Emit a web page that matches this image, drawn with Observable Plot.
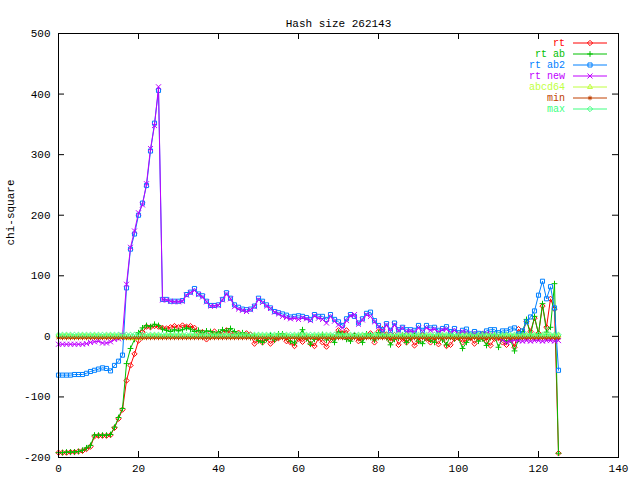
<!DOCTYPE html>
<html><head><meta charset="utf-8">
<script src="https://cdn.jsdelivr.net/npm/d3@7"></script>
<script src="https://cdn.jsdelivr.net/npm/@observablehq/plot@0.6"></script>
<style>body{margin:0;background:#fff} svg{display:block}</style>
</head><body><div id="chart"></div>
<script>
const title = "Hash size 262143";
const yLabel = "chi-square";
const xTicks = [0, 20, 40, 60, 80, 100, 120, 140];
const yTicks = [-200, -100, 0, 100, 200, 300, 400, 500];
const seriesNames = ["rt", "rt ab", "rt ab2", "rt new", "abcd64", "min", "max"];
const seriesColors = ["#ff0000", "#00c000", "#0080ff", "#c000ff", "#c0ff40", "#c04000", "#40ff80"];
const seriesSymbols = ["diamond2", "plus", "square2", "times", "triangle2", "asterisk", "diamond2"];

const rt = [
 -192,-192,-192,-191,-191,-190,-189,-186,-182,-165,
 -164,-164,-164,-163,-151,-136,-121,-73,-48,-29,
 -7,7,16,15,17,16,14,13,15,17,
 15,18,16,17,14,7,7,-5,6,8,
 4,7,10,5,3,6,2,5,3,-12,
 -6,-10,-4,-12,-6,-3,2,-8,-10,-16,
 -4,-9,-2,-12,-16,-3,-10,-17,-6,-2,
 10,5,10,-4,2,-8,-3,0,5,-10,
 8,12,3,-8,2,-14,-4,-10,-3,-15,
 -8,2,-4,-10,-3,-13,0,-16,-14,-4,
 -2,-10,-5,-3,-12,-2,4,-8,-15,-4,
 -3,-10,-14,-2,-18,12,5,25,8,30,
 5,50,15,62,45,-193];
const rtAb = [
 -192,-192,-191,-191,-191,-190,-188,-184,-180,-163,
 -163,-163,-163,-162,-150,-134,-119,-45,-20,-5,
 6,14,18,16,20,18,12,10,8,11,
 9,11,14,12,8,10,6,9,8,4,
 7,11,9,13,8,3,6,2,-2,1,
 -7,-10,-5,2,-6,4,4,-2,-8,-11,
 0,11,-4,-13,-5,-2,3,-6,-2,-10,
 7,4,-5,-8,1,-2,-10,4,2,-6,
 6,3,-2,-14,-5,-3,2,-10,-4,1,
 -8,-12,-2,-6,-10,0,-6,-14,2,-4,
 -2,-20,-10,-2,0,-8,-4,-15,-2,2,
 -18,-3,-8,-6,-24,-5,8,28,2,33,
 4,54,7,15,87,-193];
const rtAb2 = [
 -64,-64,-64,-64,-63,-63,-63,-61,-58,-56,
 -54,-52,-53,-57,-48,-41,-31,80,144,169,
 200,220,249,306,352,406,61,61,58,58,
 58,59,69,73,79,70,67,58,51,51,
 52,61,72,63,52,48,45,44,45,50,
 63,58,52,47,41,39,37,35,32,33,
 34,33,31,28,36,33,33,28,36,28,
 24,18,29,36,33,22,29,38,40,26,
 18,11,21,10,22,11,15,11,11,10,
 18,10,18,14,15,10,13,16,8,13,
 6,10,12,4,8,5,4,9,11,11,
 6,9,9,12,14,4,9,24,32,42,
 68,91,62,82,47,-56];
const rtNew = [
 -13,-13,-13,-13,-13,-13,-13,-12,-10,-9,
 -8,-11,-11,-9,-5,-4,2,86,147,174,
 204,217,252,310,348,412,60,60,58,57,
 57,58,68,72,76,69,65,57,50,50,
 51,60,70,62,49,45,43,41,44,49,
 61,56,50,46,40,37,33,31,29,30,
 28,31,29,26,34,30,28,22,33,25,
 19,14,26,34,36,20,27,36,33,24,
 16,8,19,8,19,9,14,8,9,7,
 14,8,14,10,12,7,11,12,6,10,
 4,8,6,2,5,1,2,5,3,1,
 -2,-6,-10,-8,-6,-7,-8,-7,-8,-7,
 -7,-8,-7,-7,-8,-7];
const abcd64 = [
 1,0,1,0,-1,0,1,0,0,1,
 0,-1,0,1,0,0,-1,-2,-3,-3,
 -3,-2,-1,0,1,0,-1,0,1,0,
 0,1,-1,0,0,1,0,-1,0,1,
 0,0,1,-1,0,0,1,0,-1,0,
 1,0,0,-1,0,1,0,0,-1,0,
 0,1,0,-1,0,0,1,0,0,-1,
 0,1,0,0,-1,0,1,0,-1,0,
 0,0,1,0,-1,0,0,1,0,-1,
 0,1,0,0,-1,0,1,0,0,-1,
 0,0,1,0,-1,0,0,1,0,0,
 -1,0,1,0,0,-1,0,1,0,0,
 -1,0,1,0,0,1];
const minVals = [
 -2.5,-2.5,-2.5,-2.5,-2.5,-2.5,-2.5,-2.5,-2.5,-2.5,
 -2.5,-2.5,-2.5,-2.5,-2.5,-2.5,-2.5,-2.5,-2.5,-2.5,
 -2.5,-2.5,-2.5,-2.5,-2.5,-2.5,-2.5,-2.5,-2.5,-2.5,
 -2.5,-2.5,-2.5,-2.5,-2.5,-2.5,-2.5,-2.5,-2.5,-2.5,
 -2.5,-2.5,-2.5,-2.5,-2.5,-2.5,-2.5,-2.5,-2.5,-2.5,
 -2.5,-2.5,-2.5,-2.5,-2.5,-2.5,-2.5,-2.5,-2.5,-2.5,
 -2.5,-2.5,-2.5,-2.5,-2.5,-2.5,-2.5,-2.5,-2.5,-2.5,
 -2.5,-2.5,-2.5,-2.5,-2.5,-2.5,-2.5,-2.5,-2.5,-2.5,
 -2.5,-2.5,-2.5,-2.5,-2.5,-2.5,-2.5,-2.5,-2.5,-2.5,
 -2.5,-2.5,-2.5,-2.5,-2.5,-2.5,-2.5,-2.5,-2.5,-2.5,
 -2.5,-2.5,-2.5,-2.5,-2.5,-2.5,-2.5,-2.5,-2.5,-2.5,
 -2.5,-2.5,-2.5,-2.5,-2.5,-2.5,-2.5,-2.5,-2.5,-2.5,
 -2.5,-2.5,-2.5,-2.5,-2.5,-2.5];
const maxVals = [
 2.5,2.5,2.5,2.5,2.5,2.5,2.5,2.5,2.5,2.5,
 2.5,2.5,2.5,2.5,2.5,2.5,2.5,2.5,2.5,2.5,
 2.5,2.5,2.5,2.5,2.5,2.5,2.5,2.5,2.5,2.5,
 2.5,2.5,2.5,2.5,2.5,2.5,2.5,2.5,2.5,2.5,
 2.5,2.5,2.5,2.5,2.5,2.5,2.5,2.5,2.5,2.5,
 2.5,2.5,2.5,2.5,2.5,2.5,2.5,2.5,2.5,2.5,
 2.5,2.5,2.5,2.5,2.5,2.5,2.5,2.5,2.5,2.5,
 2.5,2.5,2.5,2.5,2.5,2.5,2.5,2.5,2.5,2.5,
 2.5,2.5,2.5,2.5,2.5,2.5,2.5,2.5,2.5,2.5,
 2.5,2.5,2.5,2.5,2.5,2.5,2.5,2.5,2.5,2.5,
 2.5,2.5,2.5,2.5,2.5,2.5,2.5,2.5,2.5,2.5,
 2.5,2.5,2.5,2.5,2.5,2.5,2.5,2.5,2.5,2.5,
 2.5,2.5,2.5,2.5,2.5,2.5];

const seriesValues = [rt, rtAb, rtAb2, rtNew, abcd64, minVals, maxVals];
const symbolSizes = [2.4, 2.0, 2.6, 2.4, 2.4, 2.2, 2.4];

const W = 640, H = 480;
const mL = 58, mR = 22, mT = 33, mB = 23;
const fw = W - mL - mR, fh = H - mT - mB;
const FONT = "Liberation Mono";

const marks = [];
seriesValues.forEach((vals, s) => {
  const rows = vals.map((v, i) => ({x: i, y: v}));
  marks.push(Plot.line(rows, {x: "x", y: "y", stroke: seriesColors[s], strokeWidth: 1}));
  marks.push(Plot.dot(rows, {x: "x", y: "y", symbol: seriesSymbols[s], stroke: seriesColors[s], fill: "none", r: symbolSizes[s], strokeWidth: 1}));
});

const chart = Plot.plot({
  width: W, height: H,
  marginLeft: mL, marginRight: mR, marginTop: mT, marginBottom: mB,
  style: {fontFamily: FONT, fontSize: "11px", background: "white", color: "black", overflow: "visible"},
  x: {domain: [0, 140]},
  y: {domain: [-200, 500]},
  marks: [
    Plot.ruleX(xTicks.slice(1, -1), {stroke: "black", insetTop: fh - 6}),
    Plot.ruleX(xTicks.slice(1, -1), {stroke: "black", insetBottom: fh - 6}),
    Plot.ruleY(yTicks.slice(1, -1), {stroke: "black", insetRight: fw - 6}),
    Plot.ruleY(yTicks.slice(1, -1), {stroke: "black", insetLeft: fw - 6}),
    ...marks,
    Plot.frame({stroke: "black"}),
    Plot.axisX(xTicks, {tickSize: 0, tickPadding: 7, tickFormat: d => String(d), label: null, fill: "black"}),
    Plot.axisY(yTicks, {tickSize: 0, tickPadding: 8, tickFormat: d => String(d), label: null, fill: "black"}),
    Plot.text([title], {frameAnchor: "top", dy: -14, fill: "black"}),
    Plot.text([yLabel], {frameAnchor: "left", dx: -48, rotate: -90, fill: "black"})
  ]
});
document.getElementById("chart").appendChild(chart);

// legend (inside plot, top right)
const symMap = {diamond2: d3.symbolDiamond2, plus: d3.symbolPlus, square2: d3.symbolSquare2, times: d3.symbolTimes, triangle2: d3.symbolTriangle2, asterisk: d3.symbolAsterisk};
const lg = d3.select(chart).append("g").attr("font-family", FONT).attr("font-size", 10);
seriesNames.forEach((name, i) => {
  const y = 43 + 11 * i;
  const c = seriesColors[i];
  lg.append("text").attr("x", 565).attr("y", y).attr("dy", "0.32em").attr("text-anchor", "end").attr("fill", c).text(name);
  lg.append("line").attr("x1", 573).attr("x2", 607).attr("y1", y).attr("y2", y).attr("stroke", c);
  const r = symbolSizes[i];
  lg.append("path").attr("transform", `translate(590,${y})`)
    .attr("d", d3.symbol(symMap[seriesSymbols[i]], Math.PI * r * r)())
    .attr("stroke", c).attr("fill", "none");
});
</script>
</body></html>
